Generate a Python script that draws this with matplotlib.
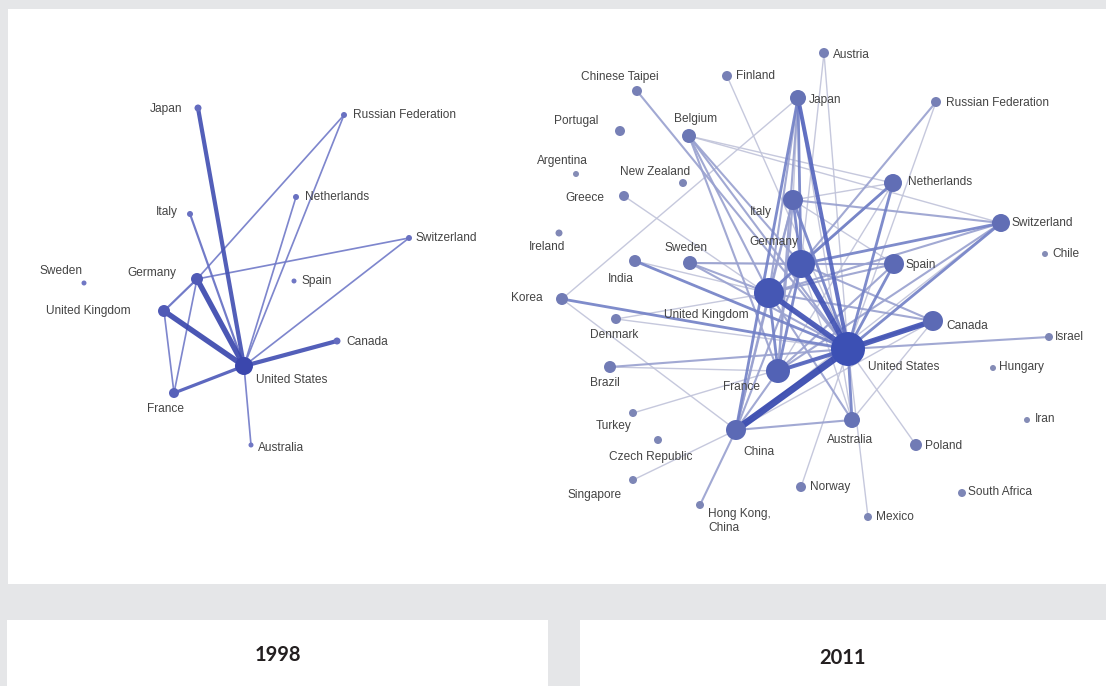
import matplotlib
matplotlib.use('Agg')
import matplotlib.pyplot as plt
from matplotlib.patches import Rectangle
from matplotlib.colors import to_rgb

W, H = 1106, 686

# ---- 1998 network (layout coordinates in pixels) ----
nodes_98 = ['Japan', 'Russian Federation', 'Netherlands', 'Italy', 'Switzerland',
            'Sweden', 'Germany', 'Spain', 'United Kingdom', 'Canada',
            'United States', 'France', 'Australia']
x_98 = [198, 344, 296, 190, 409, 84, 197, 294, 164, 337, 244, 174, 251]
y_98 = [108, 115, 197, 214, 238, 283, 279, 281, 311, 341, 366, 393, 445]
size_98 = [3.5, 3, 3, 3, 3, 2.5, 6, 2.5, 6, 3.5, 9, 5, 2.5]
edges_98 = [
    ('United States', 'Japan', 4), ('United States', 'Germany', 5),
    ('United States', 'United Kingdom', 5), ('United States', 'Canada', 4),
    ('United States', 'France', 3), ('United States', 'Italy', 2),
    ('United States', 'Netherlands', 1.5), ('United States', 'Russian Federation', 1.5),
    ('United States', 'Switzerland', 1.5), ('United States', 'Australia', 1.5),
    ('Germany', 'Russian Federation', 1.5), ('Germany', 'Switzerland', 1.5),
    ('Germany', 'United Kingdom', 2), ('Germany', 'France', 1.5),
    ('United Kingdom', 'France', 1.5),
]

# ---- 2011 network ----
nodes_11 = ['Chinese Taipei', 'Finland', 'Austria', 'Japan', 'Russian Federation',
            'Portugal', 'Belgium', 'Argentina', 'New Zealand', 'Greece', 'Ireland',
            'Sweden', 'India', 'Korea', 'Denmark', 'Brazil', 'Turkey', 'Czech Republic',
            'Singapore', 'Hong Kong,\nChina', 'United Kingdom', 'Italy', 'Germany',
            'Spain', 'Netherlands', 'Switzerland', 'Chile', 'Canada', 'United States',
            'Israel', 'Hungary', 'Iran', 'France', 'China', 'Australia', 'Poland',
            'Norway', 'South Africa', 'Mexico']
x_11 = [637, 727, 824, 798, 936, 620, 689, 576, 683, 624, 559, 690, 635, 562, 616,
        610, 633, 658, 633, 700, 769, 793, 801, 894, 893, 1001, 1045, 933, 848,
        1049, 993, 1027, 778, 736, 852, 916, 801, 962, 868]
y_11 = [91, 76, 53, 98, 102, 131, 136, 174, 183, 196, 233, 263, 261, 299, 319,
        367, 413, 440, 480, 505, 293, 200, 264, 264, 183, 223, 254, 321, 349,
        337, 368, 420, 371, 430, 420, 445, 487, 493, 517]
size_11 = [5, 5, 5, 8, 5, 5, 7, 3, 4, 5, 3.5, 7, 6, 6, 5, 6, 4, 4, 4, 4,
           15, 10, 14, 10, 9, 9, 3, 10, 17, 4, 3, 3, 12, 10, 8, 6, 5, 4, 4]
edges_11 = [
    ('United States', 'China', 6), ('United States', 'United Kingdom', 5),
    ('United States', 'Germany', 5), ('United States', 'Canada', 5),
    ('United States', 'Japan', 4), ('United States', 'France', 4),
    ('United States', 'Italy', 3), ('United States', 'Netherlands', 3),
    ('United States', 'Spain', 3), ('United States', 'Switzerland', 3),
    ('United States', 'Australia', 3), ('United States', 'Korea', 3),
    ('United States', 'India', 3), ('United States', 'Brazil', 2),
    ('United States', 'Israel', 2), ('United States', 'Sweden', 2),
    ('United States', 'Belgium', 2), ('United States', 'Denmark', 1),
    ('United States', 'Poland', 1), ('United States', 'Norway', 1),
    ('United States', 'Mexico', 1), ('United States', 'Finland', 1),
    ('United States', 'Austria', 1), ('United States', 'Russian Federation', 1),
    ('United States', 'Chinese Taipei', 2), ('United States', 'Greece', 1),
    ('United States', 'Turkey', 1),
    ('Germany', 'United Kingdom', 3), ('Germany', 'France', 3),
    ('Germany', 'Italy', 3), ('Germany', 'Netherlands', 3),
    ('Germany', 'Switzerland', 3), ('Germany', 'Spain', 2),
    ('Germany', 'Japan', 3), ('Germany', 'China', 2), ('Germany', 'Belgium', 2),
    ('Germany', 'Sweden', 2), ('Germany', 'Austria', 1),
    ('Germany', 'Russian Federation', 2), ('Germany', 'Canada', 2),
    ('Germany', 'Australia', 1),
    ('United Kingdom', 'France', 3), ('United Kingdom', 'Italy', 2),
    ('United Kingdom', 'Netherlands', 2), ('United Kingdom', 'Spain', 2),
    ('United Kingdom', 'Switzerland', 2), ('United Kingdom', 'Canada', 2),
    ('United Kingdom', 'Australia', 2), ('United Kingdom', 'China', 2),
    ('United Kingdom', 'Japan', 2), ('United Kingdom', 'Sweden', 2),
    ('United Kingdom', 'Belgium', 2), ('United Kingdom', 'India', 1),
    ('United Kingdom', 'Denmark', 1),
    ('France', 'Italy', 2), ('France', 'Spain', 2), ('France', 'Switzerland', 2),
    ('France', 'Netherlands', 1), ('France', 'Belgium', 2), ('France', 'Canada', 2),
    ('France', 'Japan', 2), ('France', 'China', 2), ('France', 'Brazil', 1),
    ('Italy', 'Spain', 1), ('Italy', 'Switzerland', 2), ('Italy', 'Netherlands', 1),
    ('Italy', 'China', 2), ('Italy', 'Japan', 1),
    ('Japan', 'China', 3), ('Japan', 'Korea', 1), ('Japan', 'Australia', 1),
    ('China', 'Australia', 2), ('China', 'Canada', 1), ('China', 'Korea', 1),
    ('China', 'Hong Kong,\nChina', 2), ('China', 'Singapore', 1),
    ('China', 'Switzerland', 1), ('Canada', 'Australia', 1),
    ('Switzerland', 'Belgium', 1), ('Netherlands', 'Belgium', 1),
    ('Sweden', 'Spain', 1),
]

# label placement: (dx, dy, ha) in pixels from the node
labels_98 = {
    'Japan': (-16, 1, 'right'), 'Russian Federation': (9, 0, 'left'),
    'Netherlands': (9, 0, 'left'), 'Italy': (-12, -2, 'right'),
    'Switzerland': (7, 0, 'left'), 'Sweden': (-23, -12, 'center'),
    'Germany': (-21, -6, 'right'), 'Spain': (8, 0, 'left'),
    'United Kingdom': (-33, 0, 'right'), 'Canada': (9, 1, 'left'),
    'United States': (12, 14, 'left'), 'France': (-8, 16, 'center'),
    'Australia': (7, 3, 'left'),
}
labels_11 = {
    'Chinese Taipei': (-17, -14, 'center'), 'Finland': (9, 0, 'left'),
    'Austria': (9, 2, 'left'), 'Japan': (11, 2, 'left'),
    'Russian Federation': (10, 1, 'left'), 'Portugal': (-44, -10, 'center'),
    'Belgium': (7, -17, 'center'), 'Argentina': (-14, -13, 'center'),
    'New Zealand': (-28, -11, 'center'), 'Greece': (-20, 2, 'right'),
    'Ireland': (-12, 14, 'center'), 'Sweden': (-4, -15, 'center'),
    'India': (-14, 18, 'center'), 'Korea': (-19, -1, 'right'),
    'Denmark': (-2, 16, 'center'), 'Brazil': (-5, 16, 'center'),
    'Turkey': (-19, 13, 'center'), 'Czech Republic': (-7, 17, 'center'),
    'Singapore': (-38, 15, 'center'), 'Hong Kong,\nChina': (8, 16, 'left'),
    'United Kingdom': (-63, 22, 'center'), 'Italy': (-32, 12, 'center'),
    'Germany': (-27, -22, 'center'), 'Spain': (12, 1, 'left'),
    'Netherlands': (15, -1, 'left'), 'Switzerland': (11, 0, 'left'),
    'Chile': (7, 0, 'left'), 'Canada': (13, 5, 'left'),
    'United States': (20, 18, 'left'), 'Israel': (6, 0, 'left'),
    'Hungary': (6, -1, 'left'), 'Iran': (8, -1, 'left'),
    'France': (-36, 16, 'center'), 'China': (23, 22, 'center'),
    'Australia': (-2, 20, 'center'), 'Poland': (9, 1, 'left'),
    'Norway': (9, 0, 'left'), 'South Africa': (6, -1, 'left'),
    'Mexico': (8, 0, 'left'),
}

# edge style by tie strength: weight -> (width px, colour)
edge_weights = [1, 1.5, 2, 3, 4, 5, 6]
width_98 = [1.4, 1.7, 2.2, 3.2, 4.2, 5.4, 6.5]
color_98 = ['#7a83cc', '#737cc9', '#6670c4', '#4f5bba', '#4451b3', '#3c49ae', '#3544ab']
width_11 = [1.4, 1.7, 2.1, 2.8, 4.0, 5.5, 7.0]
color_11 = ['#c1c4da', '#b0b5d6', '#9aa2d0', '#7482c7', '#5666be', '#4152b4', '#3547ae']


def mix(c1, c2, t):
    a, b = to_rgb(c1), to_rgb(c2)
    return tuple(a[i] + (b[i] - a[i]) * t for i in range(3))


fig = plt.figure(figsize=(W / 100, H / 100), dpi=100)
fig.patch.set_facecolor('#e5e6e8')
ax = fig.add_axes([0, 0, 1, 1])
ax.set_xlim(0, W)
ax.set_ylim(H, 0)
ax.axis('off')

# panels
ax.add_patch(Rectangle((8, 9), W - 8, 575, facecolor='white', edgecolor='none', zorder=0))
ax.add_patch(Rectangle((7, 620), 541, 70, facecolor='white', edgecolor='none', zorder=0))
ax.add_patch(Rectangle((580, 620), W - 580, 70, facecolor='white', edgecolor='none', zorder=0))

PX = 0.72  # points per pixel at 100 dpi
label_font = ['Liberation Sans', 'DejaVu Sans']


def draw_network(names, xs, ys, sizes, edges, labels, widths, colors,
                 node_lo, node_hi, node_max):
    pos = {n: (xs[i], ys[i]) for i, n in enumerate(names)}
    for a, b, w in sorted(edges, key=lambda e: e[2]):
        i = edge_weights.index(w)
        (x0, y0), (x1, y1) = pos[a], pos[b]
        ax.plot([x0, x1], [y0, y1], color=colors[i], lw=widths[i] * PX,
                solid_capstyle='round', alpha=0.92, zorder=1 + w / 10)
    for i, n in enumerate(names):
        t = min(1.0, (sizes[i] - 2.5) / (node_max - 2.5)) ** 0.8
        ax.scatter(xs[i], ys[i], s=(2 * sizes[i] * PX) ** 2,
                   color=mix(node_lo, node_hi, t), edgecolors='none', zorder=5)
        dx, dy, ha = labels[n]
        ax.text(xs[i] + dx, ys[i] + dy, n, ha=ha, va='center', fontsize=8.6,
                color='#444444', family=label_font, zorder=6, linespacing=1.25)


draw_network(nodes_98, x_98, y_98, size_98, edges_98, labels_98, width_98, color_98,
             '#7077c4', '#3b47ad', 9)
draw_network(nodes_11, x_11, y_11, size_11, edges_11, labels_11, width_11, color_11,
             '#8a90b6', '#3c50b4', 17)

ax.text(278, 655, '1998', ha='center', va='center', fontsize=14.5,
        fontweight='bold', color='#231f20', family=['Lato', 'DejaVu Sans'])
ax.text(843, 658, '2011', ha='center', va='center', fontsize=14.5,
        fontweight='bold', color='#231f20', family=['Lato', 'DejaVu Sans'])

fig.savefig('out.png', dpi=100, facecolor=fig.get_facecolor())
